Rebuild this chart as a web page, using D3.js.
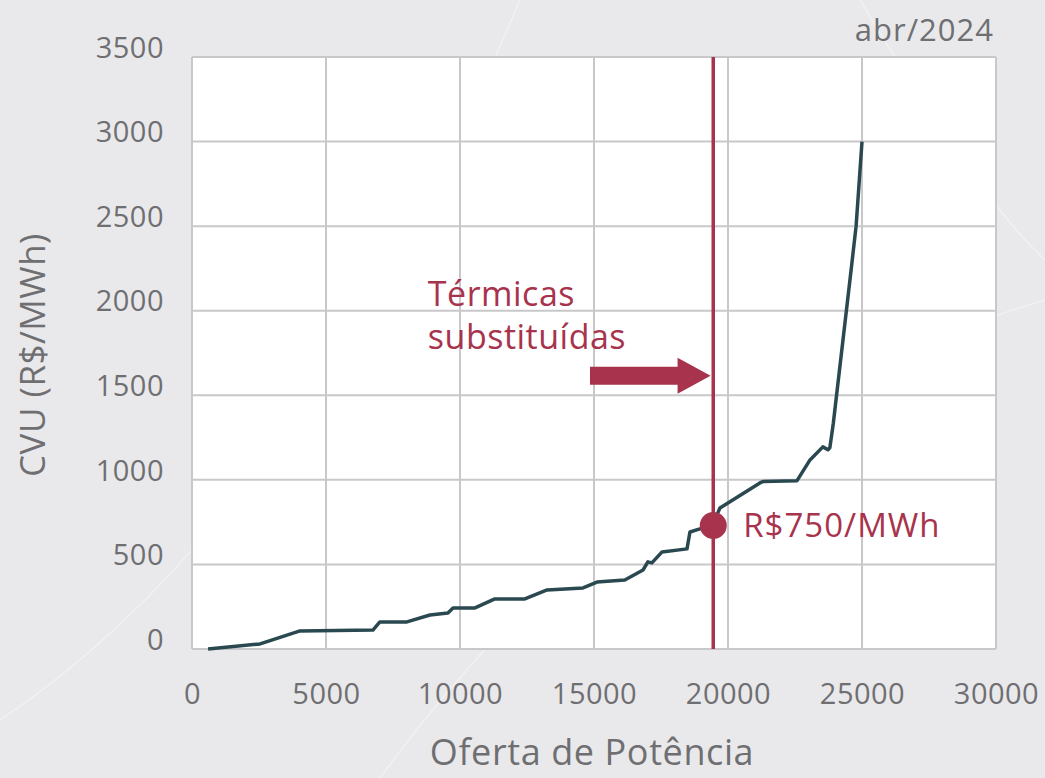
<!DOCTYPE html>
<html>
<head>
<meta charset="utf-8">
<script src="https://cdn.jsdelivr.net/npm/d3@7"></script>
<style>
  html, body { margin: 0; padding: 0; background: #e9e9eb; }
  svg { display: block; font-family: "Open Sans", "Noto Sans", sans-serif; }
</style>
</head>
<body>
<svg id="chart" width="1045" height="778"></svg>
<script>
// oferta de potência (MW) x CVU (R$/MWh)
const potencia = [600, 2540, 4030, 6750, 7010, 8020, 8880, 9550, 9740, 10560, 11300, 12420,
  13250, 14590, 15110, 16150, 16830, 17010, 17160, 17540, 18470, 18580, 18950, 19450,
  19700, 21190, 21300, 22570, 23060, 23540, 23730, 23800, 23930, 24600, 24780, 25000];
const cvu = [0, 30, 107, 112, 160, 160, 201, 213, 243, 243, 296, 296,
  349, 361, 396, 408, 467, 515, 509, 574, 592, 692, 710, 740,
  834, 982, 990, 994, 1118, 1195, 1178, 1190, 1335, 2250, 2500, 3000];

const xTicks = [0, 5000, 10000, 15000, 20000, 25000, 30000];
const yTicks = [0, 500, 1000, 1500, 2000, 2500, 3000, 3500];

const corte = { x: 19450, y: 730, label: "R$750/MWh" };
const seta = { x0: 14850, x1: 19350, y: 1615 };
const nota = ["Térmicas", "substituídas"];

const svg = d3.select("#chart");
const W = 1045, H = 778;
const margin = { top: 57, right: 49, bottom: 129, left: 192 };

const x = d3.scaleLinear().domain([0, 30000]).range([margin.left, W - margin.right]);
const y = d3.scaleLinear().domain([0, 3500]).range([H - margin.bottom, margin.top]);

const red = "#a8334c";
const grey = "#6f6f72";

// faint background swooshes
const bg = svg.append("g").attr("fill", "none").attr("stroke", "#f1f1f3").attr("stroke-width", 1.5);
bg.append("path").attr("d", "M0,720 Q300,520 520,0");
bg.append("path").attr("d", "M380,778 Q640,420 1045,300");
bg.append("path").attr("d", "M860,0 Q980,200 1045,260");

// plot area
svg.append("rect")
  .attr("x", x(0)).attr("y", y(3500))
  .attr("width", x(30000) - x(0)).attr("height", y(0) - y(3500))
  .attr("fill", "#fff");

// grid
const grid = svg.append("g").attr("stroke", "#c8c8ca").attr("stroke-width", 2);
grid.selectAll("line.v").data(xTicks).enter().append("line")
  .attr("x1", (d) => x(d)).attr("x2", (d) => x(d))
  .attr("y1", y(0)).attr("y2", y(3500));
grid.selectAll("line.h").data(yTicks).enter().append("line")
  .attr("y1", (d) => y(d)).attr("y2", (d) => y(d))
  .attr("x1", x(0)).attr("x2", x(30000));

// axes (labels only)
const xAxis = svg.append("g")
  .attr("transform", `translate(0,${y(0) + 31})`)
  .call(d3.axisBottom(x).tickValues(xTicks).tickSize(0).tickFormat(d3.format("d")));
const yAxis = svg.append("g")
  .attr("transform", `translate(${x(0) - 25},-9)`)
  .call(d3.axisLeft(y).tickValues(yTicks).tickSize(0).tickFormat(d3.format("d")));
[xAxis, yAxis].forEach((a) => {
  a.select(".domain").remove();
  a.selectAll("text").attr("fill", grey).style("font-size", "29px")
    .style("letter-spacing", "0.5px")
    .style("font-family", "'Open Sans', sans-serif");
});

// axis titles
svg.append("text")
  .attr("x", (x(0) + x(30000)) / 2 - 2).attr("y", 765)
  .attr("text-anchor", "middle").attr("fill", grey)
  .style("font-size", "36px").style("letter-spacing", "0.6px")
  .text("Oferta de Potência");
svg.append("text")
  .attr("transform", `translate(45,${(y(0) + y(3500)) / 2 + 2}) rotate(-90)`)
  .attr("text-anchor", "middle").attr("fill", grey)
  .style("font-size", "35px").style("letter-spacing", "0.5px")
  .text("CVU (R$/MWh)");

svg.append("text")
  .attr("x", x(30000) - 2).attr("y", 41)
  .attr("text-anchor", "end").attr("fill", grey)
  .style("font-size", "31px").style("letter-spacing", "1px")
  .text("abr/2024");

// supply curve
const points = potencia.map((p, i) => [p, cvu[i]]);
svg.append("path")
  .datum(points)
  .attr("fill", "none")
  .attr("stroke", "#2a4850")
  .attr("stroke-width", 3.5)
  .attr("stroke-linejoin", "round")
  .attr("d", d3.line().x((d) => x(d[0])).y((d) => y(d[1])));

// cut-off line
svg.append("line")
  .attr("x1", x(corte.x)).attr("x2", x(corte.x))
  .attr("y1", y(3500)).attr("y2", y(0))
  .attr("stroke", red).attr("stroke-width", 3.5);

svg.append("circle")
  .attr("cx", x(corte.x)).attr("cy", y(corte.y))
  .attr("r", 13.5).attr("fill", red);

svg.append("text")
  .attr("x", x(corte.x) + 30).attr("y", y(corte.y) + 11)
  .attr("fill", red).style("font-size", "33px").style("letter-spacing", "1px")
  .text(corte.label);

// annotation text + arrow
svg.append("text")
  .attr("x", x(8800)).attr("fill", red)
  .style("font-size", "34px").style("letter-spacing", "0.5px")
  .selectAll("tspan").data(nota).enter().append("tspan")
  .attr("x", x(8800))
  .attr("y", (d, i) => y(2030) + i * 43)
  .text((d) => d);

const ax0 = x(seta.x0), ax1 = x(seta.x1), ay = y(seta.y);
const head = 33;
svg.append("path")
  .attr("fill", red)
  .attr("d", `M${ax0},${ay - 9} L${ax1 - head},${ay - 9} L${ax1 - head},${ay - 18}
    L${ax1},${ay} L${ax1 - head},${ay + 18} L${ax1 - head},${ay + 9} L${ax0},${ay + 9} Z`);
</script>
</body>
</html>
